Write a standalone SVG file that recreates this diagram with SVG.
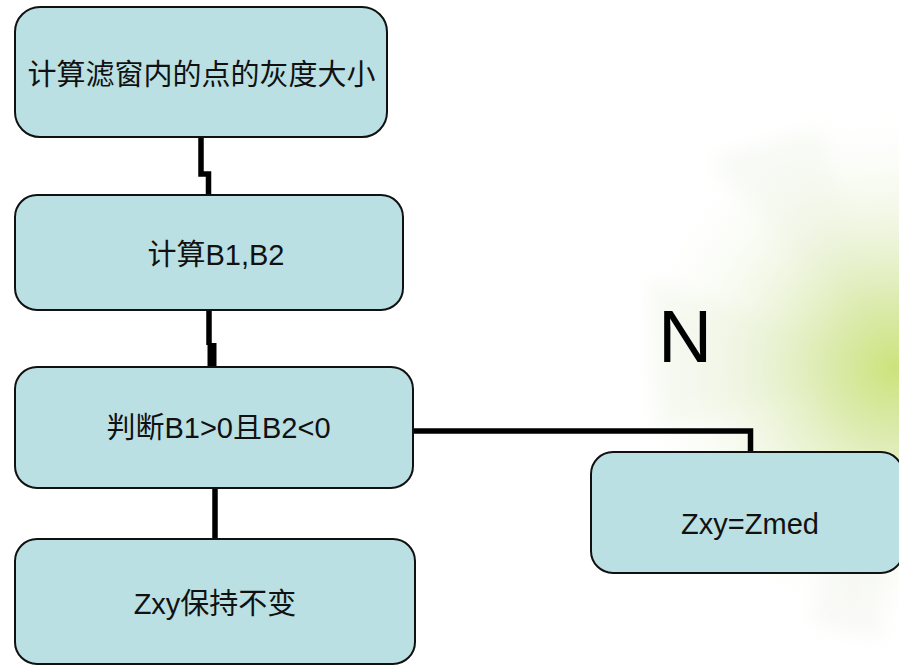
<svg xmlns="http://www.w3.org/2000/svg" width="899" height="665" viewBox="0 0 899 665">
  <defs>
    <radialGradient id="glow" cx="895" cy="368" r="270" gradientUnits="userSpaceOnUse">
      <stop offset="0" stop-color="#cbe37b"/>
      <stop offset="0.25" stop-color="#d8e9a6" stop-opacity="0.9"/>
      <stop offset="0.55" stop-color="#e8f1d2" stop-opacity="0.6"/>
      <stop offset="1" stop-color="#ffffff" stop-opacity="0"/>
    </radialGradient>
    <filter id="soft" x="-30%" y="-30%" width="160%" height="160%">
      <feGaussianBlur stdDeviation="10"/>
    </filter>
    <style>
      .box { fill: #bae0e3; stroke: #111111; stroke-width: 2; }
      .wire { fill: none; stroke: #000000; stroke-width: 5.5; stroke-linejoin: miter; }
      .label { font-family: "Liberation Sans", "Noto Sans CJK SC", sans-serif; font-size: 29px; fill: #111111; text-anchor: middle; }
    </style>
  </defs>

  <!-- page background with a soft light burst on the right -->
  <rect x="0" y="0" width="899" height="665" fill="#ffffff"/>
  <g id="burst">
    <polygon points="899,368 710,160 820,130" fill="#f3f6ee" opacity="0.6" filter="url(#soft)"/>
    <polygon points="899,368 650,280 660,430" fill="#f0f5e8" opacity="0.6" filter="url(#soft)"/>
    <polygon points="899,368 810,620 880,640" fill="#f4f5f1" opacity="0.6" filter="url(#soft)"/>
    <circle cx="899" cy="368" r="270" fill="url(#glow)"/>
  </g>

  <!-- connectors -->
  <g id="connectors">
    <polyline class="wire" points="201,137 201,174 208.5,174 208.5,195"/>
    <polyline class="wire" points="209,310 209,345"/>
    <polyline class="wire" points="212,343 212,367" style="stroke-width:9"/>
    <polyline class="wire" points="215,488 215,539"/>
    <polyline class="wire" points="413,431 750.5,431 750.5,452"/>
  </g>

  <g id="node-gray">
    <rect class="box" x="15" y="7" width="372" height="130" rx="25"/>
    <text class="label" x="201.5" y="85">计算滤窗内的点的灰度大小</text>
  </g>

  <g id="node-b">
    <rect class="box" x="15" y="195" width="388" height="115" rx="22"/>
    <text class="label" x="216" y="265">计算B1,B2</text>
  </g>

  <g id="node-judge">
    <rect class="box" x="15" y="367" width="398" height="121" rx="22"/>
    <text class="label" x="218.5" y="438">判断B1&gt;0且B2&lt;0</text>
  </g>

  <g id="node-keep">
    <rect class="box" x="15" y="539" width="400" height="125" rx="22"/>
    <text class="label" x="215" y="614">Zxy保持不变</text>
  </g>

  <g id="node-med">
    <rect class="box" x="591" y="452" width="312" height="121" rx="22"/>
    <text class="label" x="750" y="534">Zxy=Zmed</text>
  </g>

  <g id="label-n">
    <text x="685" y="362" font-family="Liberation Sans, sans-serif" font-size="75" fill="#000000" text-anchor="middle">N</text>
  </g>
</svg>
